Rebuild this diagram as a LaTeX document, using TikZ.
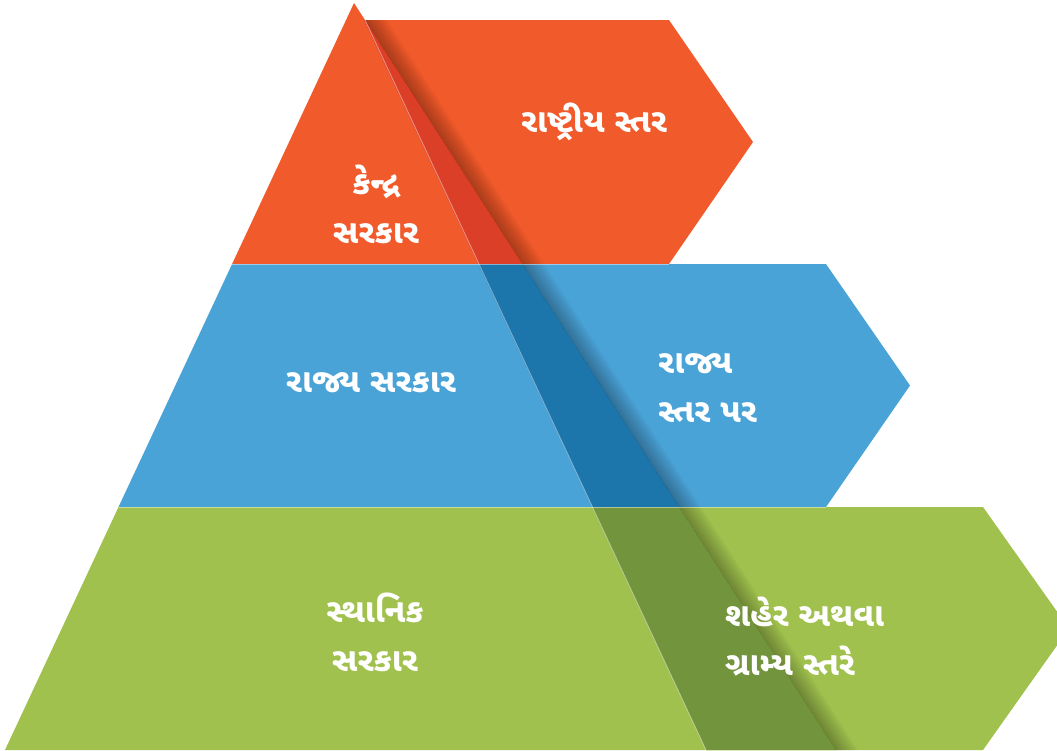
\documentclass[tikz,border=0pt]{standalone}
\usepackage{fontspec}
\newfontfamily\guj[Script=Gujarati]{Noto Sans Gujarati UI}
\definecolor{cor}{HTML}{F15A2B}
\definecolor{corD}{HTML}{DB3F27}
\definecolor{cbl}{HTML}{4AA3D7}
\definecolor{cblD}{HTML}{1C75AB}
\definecolor{cgr}{HTML}{A0C14E}
\definecolor{cgrD}{HTML}{72943C}
\tikzset{
  lbl/.style={text=white, font=\guj\bfseries\fontsize{33}{49}\selectfont, inner sep=0pt},
  sep/.style={white, opacity=0.45, line width=0.8pt}
}
\begin{document}
\begin{tikzpicture}[x=1pt,y=-1pt]
\useasboundingbox (0,0) rectangle (1057,750);
\clip (0,0) rectangle (1057,750);
% arrows
\fill[cor] (364,20) -- (669,20) -- (753,142) -- (669,264) -- (478.3,264) -- cycle;
\fill[cbl] (478.3,264) -- (826,264) -- (910,385.5) -- (826,507) -- (592.2,507) -- cycle;
\fill[cgr] (592.2,507) -- (983,507) -- (1069,628.5) -- (983,750) -- (706,750) -- cycle;
% pyramid tiers
\fill[cor] (354,3) -- (522.4,264) -- (232.1,264) -- cycle;
\fill[cbl] (232.1,264) -- (522.4,264) -- (679.2,507) -- (118.5,507) -- cycle;
\fill[cgr] (118.5,507) -- (679.2,507) -- (836,750) -- (5,750) -- cycle;
% overlaps
\fill[corD] (364,20) -- (365,20) -- (522.4,264) -- (478.3,264) -- cycle;
\fill[cblD] (478.3,264) -- (522.4,264) -- (679.2,507) -- (592.2,507) -- cycle;
\fill[cgrD] (592.2,507) -- (679.2,507) -- (836,750) -- (706,750) -- cycle;
% shadow of the pyramid edge on the arrows
\begin{scope}
\clip (364,20) -- (669,20) -- (753,142) -- (669,264) -- (478.3,264) -- cycle
      (478.3,264) -- (826,264) -- (910,385.5) -- (826,507) -- (592.2,507) -- cycle
      (592.2,507) -- (983,507) -- (1069,628.5) -- (983,750) -- (706,750) -- cycle;
\foreach \w in {2,4,...,22}
  \fill[black, opacity=0.028] (365,20) -- (836,750) -- (836+\w,750) -- (365+\w,20) -- cycle;
\end{scope}
% thin light lines
\draw[sep] (232.1,264) -- (669,264);
\draw[sep] (118.5,507) -- (826,507);
\draw[sep] (365,20) -- (706,750);
% labels
\node[lbl, align=center] (kendra) at (376,204) {કેન્દ્ર\\સરકાર};
\node[lbl] (rashtriya) at (594,122) {રાષ્ટ્રીય સ્તર};
\node[lbl] (rajya) at (371,383) {રાજ્ય સરકાર};
\node[lbl, align=left, anchor=west] (rajyastar) at (658,388) {રાજ્ય\\સ્તર પર};
\node[lbl, align=center] (sthanik) at (375,632) {સ્થાનિક\\સરકાર};
\node[lbl, align=left, anchor=west] (shaher) at (725,637) {શહેર અથવા\\ગ્રામ્ય સ્તરે};
\end{tikzpicture}
\end{document}
